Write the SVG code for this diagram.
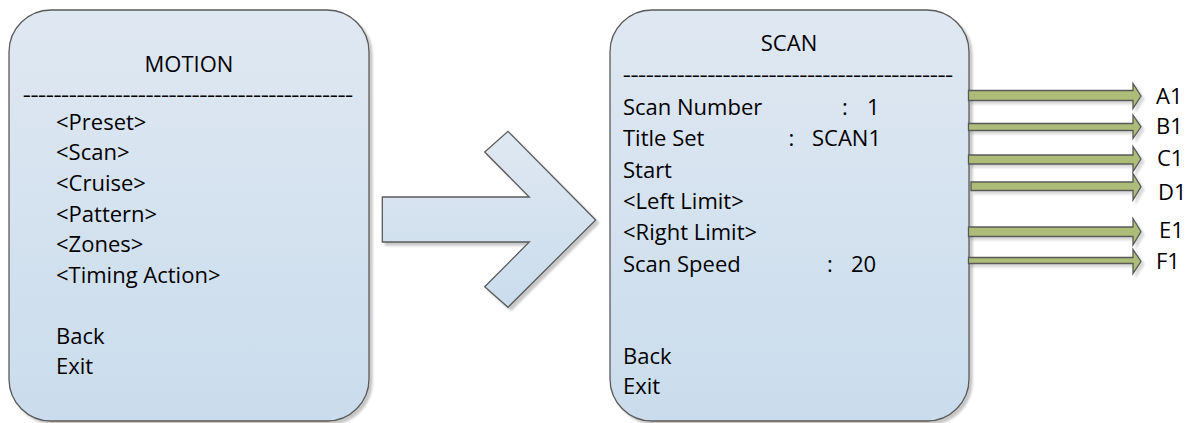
<svg xmlns="http://www.w3.org/2000/svg" width="1189" height="423" viewBox="0 0 1189 423">
<defs>
<linearGradient id="blue" x1="0" y1="0" x2="0" y2="1">
<stop offset="0" stop-color="#dfe8f2"/>
<stop offset="1" stop-color="#cadcec"/>
</linearGradient>
<filter id="sh" x="-10%" y="-10%" width="130%" height="130%">
<feDropShadow dx="3" dy="3" stdDeviation="1.2" flood-color="#000" flood-opacity="0.22"/>
</filter>
<filter id="shs" x="-5%" y="-50%" width="110%" height="250%">
<feDropShadow dx="3" dy="3" stdDeviation="1" flood-color="#000" flood-opacity="0.15"/>
</filter>
</defs>
<style>
.box{fill:url(#blue);stroke:#5a5a5a;stroke-width:1.3}
.t{font-family:"Open Sans","Liberation Sans",sans-serif;font-size:22px;fill:#000}
.d{font-family:"Open Sans","Liberation Sans",sans-serif;font-size:12px;font-weight:bold;fill:#000}
.g{fill:#adbd78;stroke:#595959;stroke-width:1.3;stroke-linejoin:miter}
</style>
<rect width="1189" height="423" fill="#fff"/>

<g id="motion">
<rect class="box" x="9" y="10" width="360" height="411" rx="42" ry="42" filter="url(#sh)"/>
<text class="t" x="189" y="72" text-anchor="middle">MOTION</text>
<text class="d" x="23" y="100" textLength="330" lengthAdjust="spacingAndGlyphs">-------------------------------------------</text>
<text class="t" x="56" y="129.5">&lt;Preset&gt;</text>
<text class="t" x="56" y="160">&lt;Scan&gt;</text>
<text class="t" x="56" y="190.8">&lt;Cruise&gt;</text>
<text class="t" x="56" y="221.5">&lt;Pattern&gt;</text>
<text class="t" x="56" y="252.2">&lt;Zones&gt;</text>
<text class="t" x="56" y="283">&lt;Timing Action&gt;</text>
<text class="t" x="56" y="343.5">Back</text>
<text class="t" x="56" y="374">Exit</text>
</g>

<g id="bigarrow">
<path class="box" filter="url(#sh)" d="M382.3,197 L529.3,197 L484.7,152 L508,131.3 L595.7,220 L508,307.3 L484.7,286.7 L529.3,242 L382.3,242 Z"/>
</g>

<g id="scan">
<rect class="box" x="610" y="10" width="359" height="411" rx="42" ry="42" filter="url(#sh)"/>
<text class="t" x="789" y="51" text-anchor="middle">SCAN</text>
<text class="d" x="623" y="80" textLength="330" lengthAdjust="spacingAndGlyphs">-------------------------------------------</text>
<text class="t" y="115"><tspan x="623">Scan Number</tspan><tspan x="842">:</tspan><tspan x="867">1</tspan></text>
<text class="t" y="146.3"><tspan x="623">Title Set</tspan><tspan x="788.5">:</tspan><tspan x="812">SCAN1</tspan></text>
<text class="t" x="623" y="177.7">Start</text>
<text class="t" x="623" y="209">&lt;Left Limit&gt;</text>
<text class="t" x="623" y="240.3">&lt;Right Limit&gt;</text>
<text class="t" y="271.7"><tspan x="623">Scan Speed</tspan><tspan x="827">:</tspan><tspan x="851">20</tspan></text>
<text class="t" x="623" y="363.5">Back</text>
<text class="t" x="623" y="394">Exit</text>
</g>

<g id="connectors">
<path class="g" filter="url(#shs)" d="M968.5,90.5 H1133 V83.5 L1141,96 L1133,108.5 V100.5 H968.5 Z"/>
<path class="g" filter="url(#shs)" d="M968.5,123.5 H1133 V115 L1141,126.8 L1133,138.5 V130.5 H968.5 Z"/>
<path class="g" filter="url(#shs)" d="M968.5,155 H1133 V146.5 L1141,159 L1133,171.5 V164 H968.5 Z"/>
<path class="g" filter="url(#shs)" d="M971,182 H1133 V173.5 L1141,186.7 L1133,200 V190.5 H971 Z"/>
<path class="g" filter="url(#shs)" d="M968.5,227 H1133 V218.5 L1141,231.7 L1133,245 V236.5 H968.5 Z"/>
<path class="g" filter="url(#shs)" d="M968.5,257.5 H1133 V249.5 L1141,261.5 L1133,273.5 V263.5 H968.5 Z"/>
</g>

<g id="labels">
<text class="t" x="1156" y="104.3">A1</text>
<text class="t" x="1156" y="134.3">B1</text>
<text class="t" x="1157" y="166">C1</text>
<text class="t" x="1158" y="200">D1</text>
<text class="t" x="1159" y="238.3">E1</text>
<text class="t" x="1156" y="269.3">F1</text>
</g>
</svg>
